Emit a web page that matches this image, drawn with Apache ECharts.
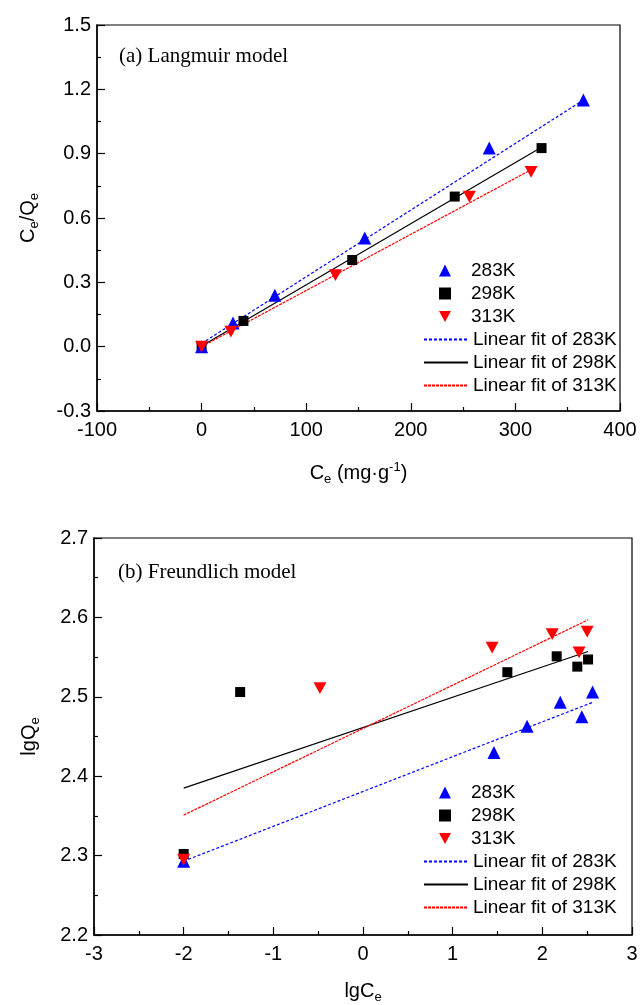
<!DOCTYPE html>
<html>
<head>
    <meta charset="utf-8">
    <script src="https://cdn.jsdelivr.net/npm/echarts@6/dist/echarts.min.js"></script>
    <title>Langmuir and Freundlich isotherms</title>
    <style>
        html, body { margin: 0; padding: 0; background: #fff; }
        #main { width: 641px; height: 1005px; }
    </style>
</head>
<body>
    <div id="main"></div>

    <script type="text/javascript">
        // (a) Langmuir: Ce vs Ce/Qe
        var ce283 = [0, 30, 70, 156, 275, 365];
        var cq283 = [0, 0.11, 0.24, 0.507, 0.926, 1.15];
        var ce298 = [0, 40, 144, 242, 325];
        var cq298 = [0, 0.12, 0.404, 0.70, 0.926];
        var ce313 = [0, 28, 128, 256, 315];
        var cq313 = [0, 0.07, 0.334, 0.70, 0.815];
        // fitted lines, end points
        var fitA283x = [0, 365], fitA283y = [0.015, 1.15];
        var fitA298x = [0, 325], fitA298y = [0.003, 0.93];
        var fitA313x = [0, 315], fitA313y = [0, 0.825];

        // (b) Freundlich: lgCe vs lgQe
        var lgc283 = [-2, 1.46, 1.83, 2.2, 2.44, 2.56];
        var lgq283 = [2.293, 2.43, 2.463, 2.493, 2.475, 2.506];
        var lgc298 = [-2, -1.37, 1.61, 2.16, 2.39, 2.51];
        var lgq298 = [2.302, 2.506, 2.531, 2.551, 2.538, 2.547];
        var lgc313 = [-2, -0.48, 1.44, 2.11, 2.41, 2.50];
        var lgq313 = [2.295, 2.511, 2.562, 2.579, 2.556, 2.582];
        var fitB283x = [-2, 2.56], fitB283y = [2.293, 2.493];
        var fitB298x = [-2, 2.51], fitB298y = [2.385, 2.557];
        var fitB313x = [-2, 2.51], fitB313y = [2.351, 2.597];

        var names = ['283K', '298K', '313K', 'Linear fit of 283K', 'Linear fit of 298K', 'Linear fit of 313K'];

        function zip(xs, ys) {
            return xs.map(function (x, i) { return [x, ys[i]]; });
        }

        var sans = 'Liberation Sans, Arial, sans-serif';
        var downTri = 'path://M0,0L10,0L5,9Z';

        var myChart = echarts.init(document.getElementById('main'), null, { renderer: 'canvas' });

        function xAxisCfg(grid, min, max, interval, nameRich, gap) {
            return {
                type: 'value', gridIndex: grid, min: min, max: max, interval: interval,
                name: nameRich, nameLocation: 'middle', nameGap: gap,
                nameTextStyle: {
                    fontSize: 20, color: '#000', fontFamily: sans,
                    rich: {
                        n: { fontSize: 20, color: '#000', fontFamily: sans },
                        sub: { fontSize: 13, color: '#000', fontFamily: sans, padding: [12, 0, 0, 0] },
                        sup: { fontSize: 13, color: '#000', fontFamily: sans, padding: [0, 0, 12, 0] }
                    }
                },
                axisLine: { onZero: false, lineStyle: { color: '#000', width: 1.5 } },
                axisTick: { inside: true, length: 8, lineStyle: { color: '#000', width: 1.2 } },
                minorTick: { show: true, splitNumber: 2, length: 4, lineStyle: { color: '#000', width: 1.2 } },
                axisLabel: { fontSize: 20, color: '#000', fontFamily: sans, margin: 9 },
                splitLine: { show: false }
            };
        }

        function yAxisCfg(grid, min, max, interval, nameRich, gap) {
            return {
                type: 'value', gridIndex: grid, min: min, max: max, interval: interval,
                name: nameRich, nameLocation: 'middle', nameGap: gap,
                nameTextStyle: {
                    fontSize: 20, color: '#000', fontFamily: sans,
                    rich: {
                        n: { fontSize: 20, color: '#000', fontFamily: sans },
                        sub: { fontSize: 13, color: '#000', fontFamily: sans, padding: [12, 0, 0, 0] }
                    }
                },
                axisLine: { onZero: false, lineStyle: { color: '#000', width: 1.5 } },
                axisTick: { inside: true, length: 8, lineStyle: { color: '#000', width: 1.2 } },
                minorTick: { show: true, splitNumber: 2, length: 4, lineStyle: { color: '#000', width: 1.2 } },
                axisLabel: {
                    fontSize: 20, color: '#000', fontFamily: sans, margin: 6,
                    formatter: function (v) { return v.toFixed(1); }
                },
                splitLine: { show: false }
            };
        }

        function scatter(name, idx, data, symbol, size, color) {
            return {
                name: name, type: 'scatter', xAxisIndex: idx, yAxisIndex: idx,
                data: data, symbol: symbol, symbolSize: size, symbolKeepAspect: true,
                itemStyle: { color: color, opacity: 1 }, z: 3
            };
        }

        function fitLine(name, idx, data, color, type) {
            return {
                name: name, type: 'line', xAxisIndex: idx, yAxisIndex: idx,
                data: data, symbol: 'none', showSymbol: false,
                lineStyle: { color: color, width: 1.2, type: type },
                itemStyle: { color: color }, z: 2, silent: true
            };
        }

        // markers: square icon box, text pushed right to line up with the fit rows
        function markerLegend(top) {
            return {
                data: names.slice(0, 3), orient: 'vertical', left: 439, top: top, padding: 0,
                itemWidth: 12, itemHeight: 12, itemGap: 4,
                textStyle: { fontSize: 19, color: '#000', fontFamily: sans, padding: [0, 0, 0, 15] },
                selectedMode: false
            };
        }

        // fits: hide the round marker that line series put in their legend icon
        function fitLegend(top) {
            return {
                data: names.slice(3).map(function (n) { return { name: n, itemStyle: { opacity: 0 } }; }),
                orient: 'vertical', left: 423, top: top, padding: 0,
                itemWidth: 44, itemHeight: 12, itemGap: 4,
                textStyle: { fontSize: 19, color: '#000', fontFamily: sans },
                selectedMode: false
            };
        }

        myChart.setOption({
            animation: false,
            backgroundColor: '#fff',
            textStyle: { fontFamily: sans },
            title: [{
                text: '(a) Langmuir model', left: 119, top: 46, padding: 0,
                textStyle: { fontFamily: 'Liberation Serif, Times New Roman, serif', fontWeight: 'normal', fontSize: 21, color: '#000' }
            }, {
                text: '(b) Freundlich model', left: 118, top: 562, padding: 0,
                textStyle: { fontFamily: 'Liberation Serif, Times New Roman, serif', fontWeight: 'normal', fontSize: 21, color: '#000' }
            }],
            legend: [markerLegend(261), fitLegend(330), markerLegend(783), fitLegend(852)],
            grid: [{
                left: 97, right: 21, top: 25, bottom: 594,
                show: true, borderColor: '#000', borderWidth: 1.2
            }, {
                left: 94, right: 9, top: 538, bottom: 70,
                show: true, borderColor: '#000', borderWidth: 1.2
            }],
            xAxis: [
                xAxisCfg(0, -100, 400, 100, '{n|C}{sub|e}{n| (mg·g}{sup|-1}{n|)}', 50),
                xAxisCfg(1, -3, 3, 1, '{n|lgC}{sub|e}', 44)
            ],
            yAxis: [
                yAxisCfg(0, -0.3, 1.5, 0.3, '{n|C}{sub|e}{n|/Q}{sub|e}', 56),
                yAxisCfg(1, 2.2, 2.7, 0.1, '{n|lgQ}{sub|e}', 52)
            ],
            series: [
                fitLine(names[3], 0, zip(fitA283x, fitA283y), '#0000ff', [3, 2]),
                fitLine(names[4], 0, zip(fitA298x, fitA298y), '#000000', 'solid'),
                fitLine(names[5], 0, zip(fitA313x, fitA313y), '#ff0000', [3, 1]),
                scatter(names[1], 0, zip(ce298, cq298), 'rect', 10, '#000000'),
                scatter(names[0], 0, zip(ce283, cq283), 'triangle', 13, '#0000ff'),
                scatter(names[2], 0, zip(ce313, cq313), downTri, 13, '#ff0000'),

                fitLine(names[3], 1, zip(fitB283x, fitB283y), '#0000ff', [3, 2]),
                fitLine(names[4], 1, zip(fitB298x, fitB298y), '#000000', 'solid'),
                fitLine(names[5], 1, zip(fitB313x, fitB313y), '#ff0000', [3, 1]),
                scatter(names[0], 1, zip(lgc283, lgq283), 'triangle', 13, '#0000ff'),
                scatter(names[1], 1, zip(lgc298, lgq298), 'rect', 10, '#000000'),
                scatter(names[2], 1, zip(lgc313, lgq313), downTri, 13, '#ff0000')
            ]
        });
    </script>
</body>
</html>
